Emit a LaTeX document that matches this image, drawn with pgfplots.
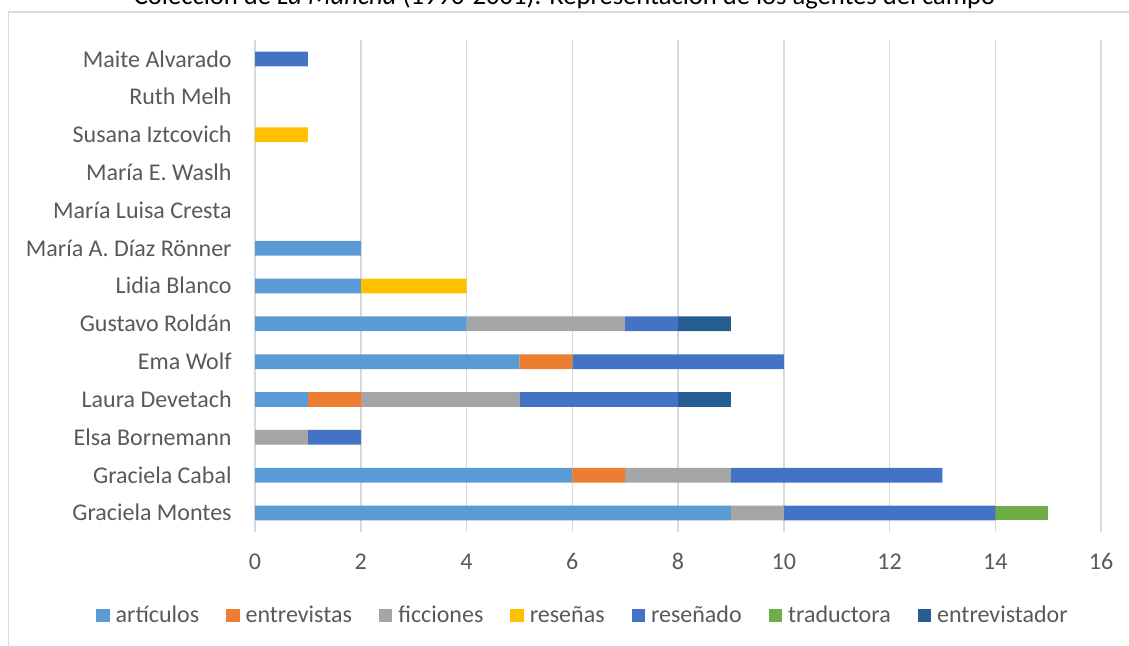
\documentclass[border=0pt]{standalone}
\usepackage{pgfplots}
\pgfplotsset{compat=1.18}
\usepackage{fontspec}
\setmainfont{Carlito}
\definecolor{cart}{HTML}{5B9BD5}
\definecolor{centr}{HTML}{ED7D31}
\definecolor{cfic}{HTML}{A5A5A5}
\definecolor{cres}{HTML}{FFC000}
\definecolor{cresd}{HTML}{4472C4}
\definecolor{ctrad}{HTML}{70AD47}
\definecolor{centv}{HTML}{255E91}
\definecolor{tgrey}{HTML}{595959}
\definecolor{ggrey}{HTML}{D9D9D9}
\begin{document}
\begin{tikzpicture}
\path[use as bounding box] (0,0) rectangle (564.5bp,323bp);
\draw[ggrey, line width=0.75bp] (4.25bp,-5bp) -- (4.25bp,317bp) -- (570bp,317bp);
\node[anchor=base, inner sep=0pt, font=\fontsize{13.3bp}{15bp}\selectfont, text=black] at (282.25bp,320.5bp) {Colección de \textit{La Mancha} (1990-2001). Representación de los agentes del campo};
\begin{axis}[
  at={(127.5bp,57.05bp)}, anchor=south west,
  scale only axis, width=423bp, height=245.9bp,
  xbar stacked, bar width=7.35bp,
  xmin=0, xmax=16, ymin=-0.5, ymax=12.5,
  xtick={0,2,...,16},
  ytick={0,...,12},
  yticklabels={Graciela Montes,Graciela Cabal,Elsa Bornemann,Laura Devetach,Ema Wolf,Gustavo Roldán,Lidia Blanco,María A. Díaz Rönner,María Luisa Cresta,María E. Waslh,Susana Iztcovich,Ruth Melh,Maite Alvarado},
  xmajorgrids, major grid style={ggrey, line width=0.75bp},
  axis line style={draw=none},
  major tick length=0pt,
  /pgf/number format/assume math mode=true,
  tick label style={font=\fontsize{12bp}{14bp}\selectfont, text=tgrey, inner sep=0pt},
  xticklabel style={anchor=base, yshift=-19bp},
  yticklabel style={anchor=base east, xshift=-11.5bp, yshift=-4bp},
  legend columns=-1,
  legend style={at={(0.3865,-0.1708)}, anchor=center, draw=none, fill=none,
    font=\fontsize{12bp}{14bp}\selectfont, text=tgrey, inner sep=0pt,
    nodes={inner sep=0pt},
    /tikz/every odd column/.append style={column sep=3bp},
    /tikz/every even column/.append style={column sep=13.5bp}},
  legend image code/.code={\fill[#1] (0bp,-3.1bp) rectangle (6.7bp,3.6bp);},
  every axis plot/.append style={draw=none},
]
\addplot+[fill=cart] coordinates {(9,0) (6,1) (0,2) (1,3) (5,4) (4,5) (2,6) (2,7) (0,8) (0,9) (0,10) (0,11) (0,12)};
\addplot+[fill=centr] coordinates {(0,0) (1,1) (0,2) (1,3) (1,4) (0,5) (0,6) (0,7) (0,8) (0,9) (0,10) (0,11) (0,12)};
\addplot+[fill=cfic] coordinates {(1,0) (2,1) (1,2) (3,3) (0,4) (3,5) (0,6) (0,7) (0,8) (0,9) (0,10) (0,11) (0,12)};
\addplot+[fill=cres] coordinates {(0,0) (0,1) (0,2) (0,3) (0,4) (0,5) (2,6) (0,7) (0,8) (0,9) (1,10) (0,11) (0,12)};
\addplot+[fill=cresd] coordinates {(4,0) (4,1) (1,2) (3,3) (4,4) (1,5) (0,6) (0,7) (0,8) (0,9) (0,10) (0,11) (1,12)};
\addplot+[fill=ctrad] coordinates {(1,0) (0,1) (0,2) (0,3) (0,4) (0,5) (0,6) (0,7) (0,8) (0,9) (0,10) (0,11) (0,12)};
\addplot+[fill=centv] coordinates {(0,0) (0,1) (0,2) (1,3) (0,4) (1,5) (0,6) (0,7) (0,8) (0,9) (0,10) (0,11) (0,12)};
\legend{artículos,entrevistas,ficciones,reseñas,reseñado,traductora,entrevistador}
\end{axis}
\end{tikzpicture}
\end{document}
